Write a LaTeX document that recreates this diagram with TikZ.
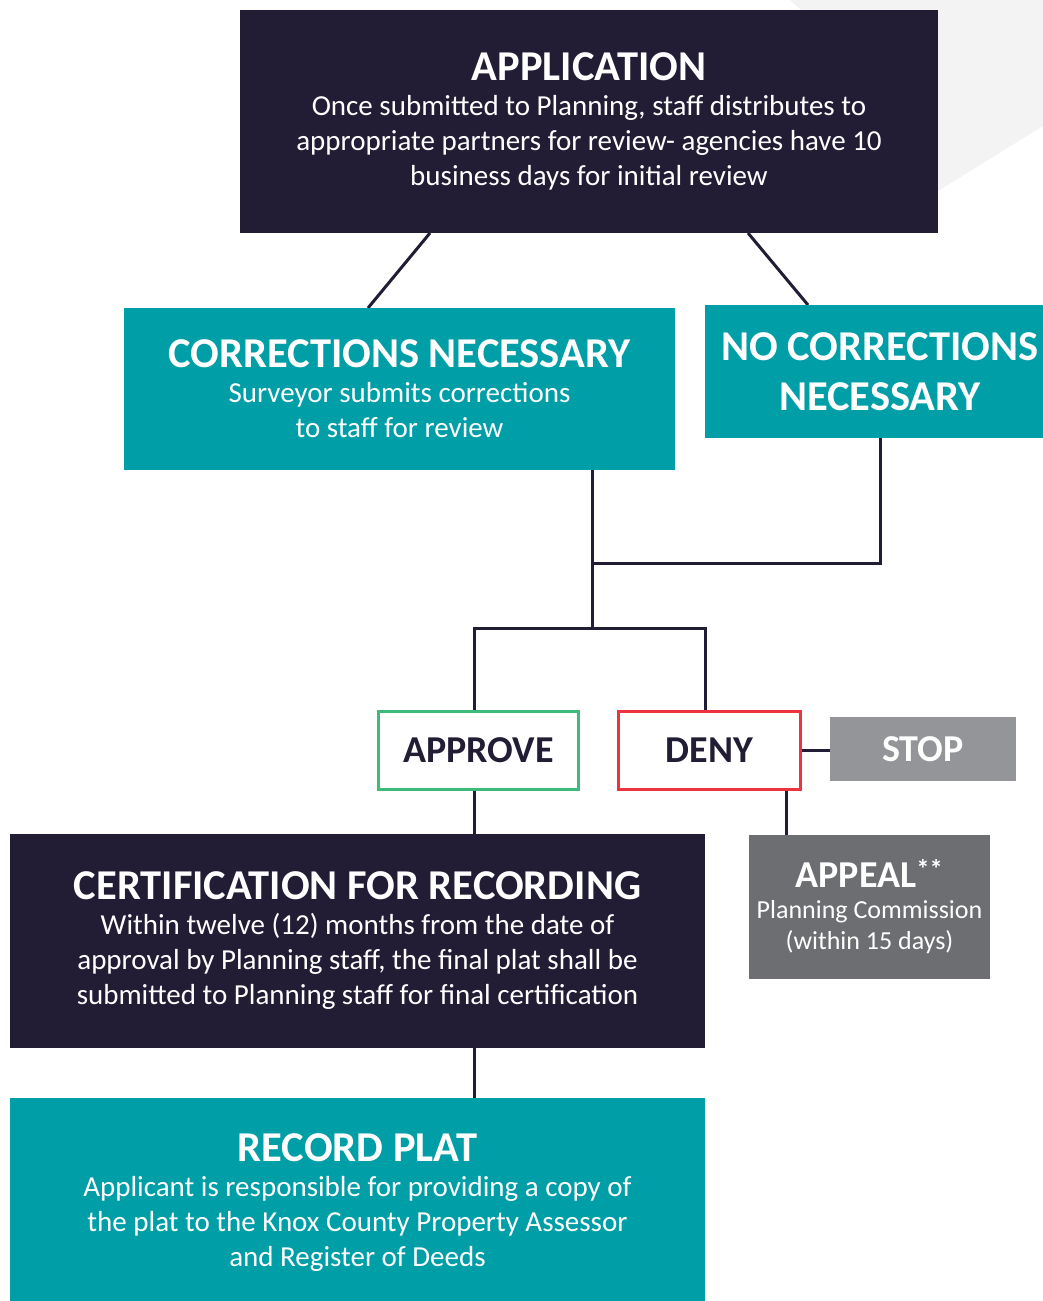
\documentclass[tikz,border=0pt]{standalone}
\usepackage{fontspec}
\setmainfont{Carlito}
\usetikzlibrary{backgrounds}

\definecolor{navy}{HTML}{221D35}
\definecolor{petrol}{HTML}{009EA7}
\definecolor{gruen}{HTML}{3DBB7B}
\definecolor{rot}{HTML}{EE3340}
\definecolor{hellgrau}{HTML}{939598}
\definecolor{dunkelgrau}{HTML}{6D6E71}
\definecolor{bggrau}{HTML}{F3F3F4}

\newcommand\hfont{\fontsize{42.5}{50}\selectfont\bfseries}
\newcommand\bfont{\fontsize{29}{35}\selectfont}

\begin{document}
\begin{tikzpicture}[x=1pt,y=-1pt,
    every node/.style={inner sep=0pt, outer sep=0pt, align=center},
    darkbox/.style={fill=navy, text=white, font=\bfont},
    tealbox/.style={fill=petrol, text=white, font=\bfont},
    greybox/.style={text=white, font=\fontsize{38}{40}\selectfont\bfseries},
    entscheid/.style={draw, line width=3pt, fill=white, text=navy, font=\fontsize{38}{40}\selectfont\bfseries},
    linie/.style={draw=navy, line width=3pt}]

    \useasboundingbox (0,0) rectangle (1043,1301);

    \node[darkbox, minimum width=698pt, minimum height=223pt] (application) at (589,121.5) {\hfont APPLICATION\\Once submitted to Planning, staff distributes to\\appropriate partners for review- agencies have 10\\business days for initial review};

    \node[tealbox, minimum width=551pt, minimum height=161.5pt] (corrections) at (399.5,388.75) {\hfont CORRECTIONS NECESSARY\\Surveyor submits corrections\\to staff for review};

    \node[tealbox, minimum width=350pt, minimum height=133pt, font=\hfont] (nocorrections) at (880,371.5) {NO CORRECTIONS\\NECESSARY};

    \node[entscheid, draw=gruen, minimum width=200pt, minimum height=78pt] (approve) at (478.5,750.5) {APPROVE};
    \node[entscheid, draw=rot, minimum width=182pt, minimum height=78pt] (deny) at (709.5,750.5) {DENY};
    \node[greybox, fill=hellgrau, minimum width=186pt, minimum height=64pt] (stop) at (923,749) {STOP};

    \node[greybox, fill=dunkelgrau, minimum width=241pt, minimum height=144pt, font=\fontsize{26}{31}\selectfont] (appeal) at (869.5,907) {\fontsize{38}{40}\selectfont\bfseries APPEAL\textsuperscript{**}\\Planning Commission\\(within 15 days)};

    \node[darkbox, minimum width=695pt, minimum height=214pt] (certification) at (357.5,941) {\hfont CERTIFICATION FOR RECORDING\\Within twelve (12) months from the date of\\approval by Planning staff, the final plat shall be\\submitted to Planning staff for final certification};

    \node[tealbox, minimum width=695pt, minimum height=210pt] (recordplat) at (357.5,1203) {\hfont RECORD PLAT\\Applicant is responsible for providing a copy of\\the plat to the Knox County Property Assessor\\and Register of Deeds};

    \begin{scope}[on background layer]
    \fill[bggrau] (790,0) -- (1043,0) -- (1043,126) -- (938,191) -- (900,100) -- cycle;

    \coordinate (join) at (592,563);
    \coordinate (split) at (592,628);
    \path[linie] ([xshift=-159pt]application.south) -- ([xshift=-31.5pt]corrections.north);
    \path[linie] ([xshift=159pt]application.south) -- ([xshift=-72pt]nocorrections.north);
    \path[linie] ([xshift=192.5pt]corrections.south) -- (split);
    \path[linie] (nocorrections.south) |- (join);
    \path[linie] ([xshift=-4.5pt]approve.north) |- (split) -| ([xshift=-4.5pt]deny.north);
    \path[linie] (deny.east) -- (deny.east -| stop.west);
    \path[linie] ([xshift=76.5pt]deny.south) coordinate (d) -- (d |- appeal.north);
    \path[linie] ([xshift=-4.5pt]approve.south) coordinate (a) -- (a |- certification.north);
    \path[linie] ([xshift=116.5pt]certification.south) -- ([xshift=116.5pt]recordplat.north);
    \end{scope}
\end{tikzpicture}
\end{document}
